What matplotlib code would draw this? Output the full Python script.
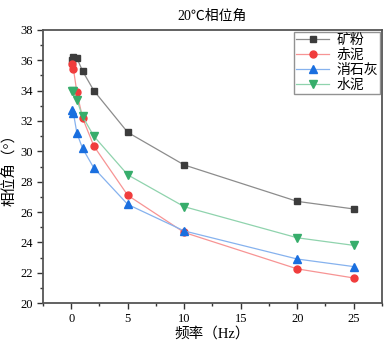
import matplotlib
matplotlib.use("Agg")
import matplotlib.pyplot as plt
from matplotlib.ticker import MultipleLocator

plt.rcParams['font.family'] = ['Liberation Serif', 'Noto Sans CJK SC', 'DejaVu Sans']
plt.rcParams['axes.unicode_minus'] = False

# 频率 (Hz)
freq = [0.1, 0.2, 0.5, 1, 2, 5, 10, 20, 25]
kuangfen = [36.0, 36.2, 36.15, 35.3, 34.0, 31.25, 29.1, 26.7, 26.2]
chini = [35.75, 35.4, 33.9, 32.2, 30.35, 27.1, 24.65, 22.25, 21.65]
xiaoshihui = [32.7, 32.5, 31.2, 30.2, 28.9, 26.5, 24.75, 22.9, 22.4]
shuini = [34.0, 33.95, 33.4, 32.3, 31.0, 28.45, 26.35, 24.3, 23.8]
names = ['矿粉', '赤泥', '消石灰', '水泥']

fig = plt.figure(figsize=(3.89, 3.48), dpi=100)
ax = fig.add_axes([0.1105, 0.1293, 0.8715, 0.7845])

styles = [
    (kuangfen, 's', '#3c3c3c', '#8c8c8c', 4.5),
    (chini, 'o', '#f03c3c', '#f79494', 5),
    (xiaoshihui, '^', '#1a6fdf', '#86b2ee', 5.5),
    (shuini, 'v', '#37ad6b', '#8fd3ad', 5.5),
]
for (vals, mk, mc, lc, ms), name in zip(styles, names):
    ax.plot(freq, vals, color=lc, lw=0.9, marker=mk, markersize=ms,
            markerfacecolor=mc, markeredgecolor=mc, label=name)

ax.set_xlim(-2.5, 27.5)
ax.set_ylim(20, 38)
ax.xaxis.set_major_locator(MultipleLocator(5))
ax.xaxis.set_minor_locator(MultipleLocator(2.5))
ax.yaxis.set_major_locator(MultipleLocator(2))
ax.yaxis.set_minor_locator(MultipleLocator(1))
ax.tick_params(which='both', direction='out', top=False, right=False,
               labelsize=9, color='#333333', width=1)
ax.tick_params(which='major', length=4)
ax.tick_params(which='minor', length=2.5)
for s in ax.spines.values():
    s.set_color('#555555')
    s.set_linewidth(1.3)

ax.set_title('20℃相位角', fontsize=10, pad=7)
ax.set_xlabel('频率（Hz）', fontsize=10.5, labelpad=1)
ax.set_ylabel('相位角（°）', fontsize=10.5, labelpad=3)

leg = ax.legend(loc='upper right', fontsize=10, frameon=True, fancybox=False,
                edgecolor='#777777', borderpad=0.15, labelspacing=0.12,
                handlelength=2.4, handletextpad=0.5, borderaxespad=0.15)
leg.get_frame().set_linewidth(1)

fig.savefig('out.png', dpi=100)
